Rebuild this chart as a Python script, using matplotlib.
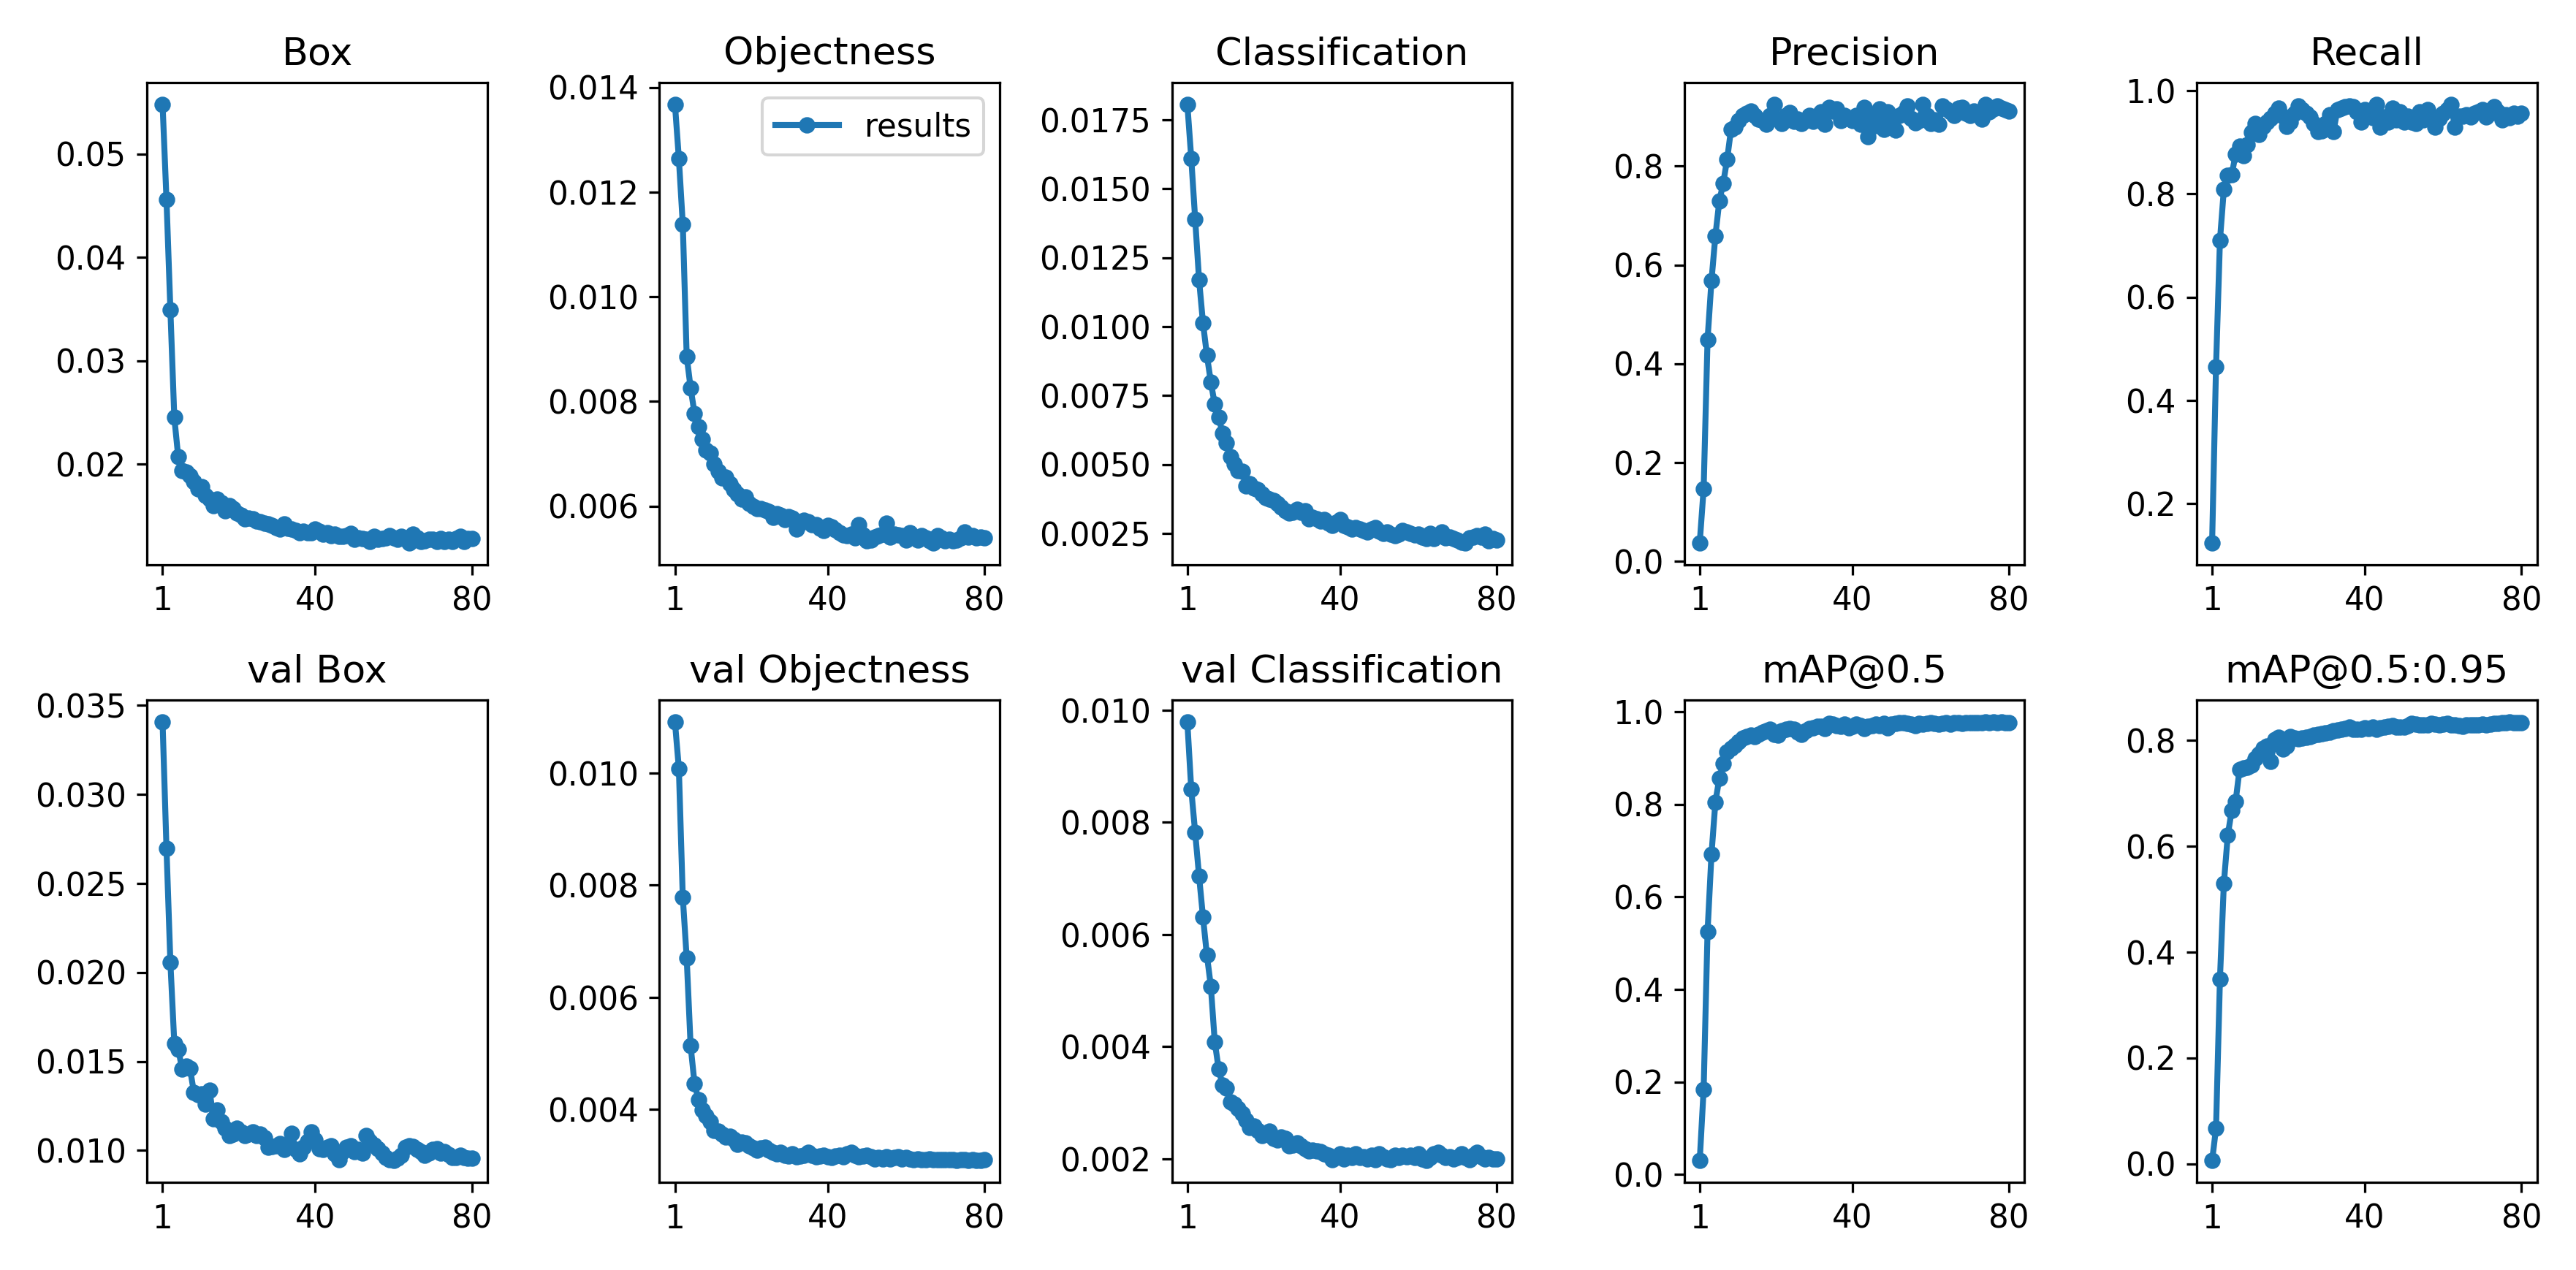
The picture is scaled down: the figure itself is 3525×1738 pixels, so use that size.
import matplotlib
matplotlib.use("Agg")
import matplotlib.pyplot as plt
from matplotlib.ticker import MultipleLocator
import numpy as np

# training curves, one value per epoch (1..80)
epochs = np.arange(1, 81)

box = [0.0548, 0.0456, 0.0349, 0.0245, 0.0207, 0.0194, 0.0192, 0.0189, 0.0183, 0.0176,
       0.0178, 0.0170, 0.0166, 0.0160, 0.0166, 0.0163, 0.0155, 0.0160, 0.0157, 0.0153,
       0.0151, 0.0147, 0.0148, 0.0147, 0.0145, 0.0144, 0.0143, 0.0142, 0.0141, 0.0139,
       0.0137, 0.0142, 0.0138, 0.0137, 0.0136, 0.0134, 0.0135, 0.0134, 0.0134, 0.0137,
       0.0135, 0.0132, 0.0134, 0.0131, 0.0132, 0.0130, 0.0130, 0.0131, 0.0133, 0.0127,
       0.0129, 0.0128, 0.0127, 0.0125, 0.0130, 0.0127, 0.0128, 0.0129, 0.0131, 0.0129,
       0.0127, 0.0130, 0.0127, 0.0124, 0.0132, 0.0129, 0.0125, 0.0126, 0.0127, 0.0127,
       0.0125, 0.0128, 0.0125, 0.0127, 0.0125, 0.0128, 0.0130, 0.0125, 0.0128, 0.0128]

objectness = [0.01368, 0.01264, 0.01139, 0.00886, 0.00826, 0.00777, 0.00751, 0.00728, 0.00707, 0.00701,
              0.00681, 0.00666, 0.00654, 0.00656, 0.00643, 0.00632, 0.00623, 0.00613, 0.00618, 0.00605,
              0.00600, 0.00595, 0.00595, 0.00592, 0.00590, 0.00579, 0.00585, 0.00583, 0.00575, 0.00580,
              0.00577, 0.00556, 0.00568, 0.00573, 0.00570, 0.00564, 0.00565, 0.00558, 0.00553, 0.00563,
              0.00560, 0.00555, 0.00549, 0.00545, 0.00543, 0.00547, 0.00540, 0.00564, 0.00545, 0.00534,
              0.00535, 0.00541, 0.00543, 0.00547, 0.00568, 0.00541, 0.00547, 0.00545, 0.00543, 0.00535,
              0.00549, 0.00541, 0.00535, 0.00543, 0.00540, 0.00534, 0.00530, 0.00543, 0.00540, 0.00534,
              0.00537, 0.00534, 0.00535, 0.00540, 0.00550, 0.00541, 0.00543, 0.00540, 0.00541, 0.00540]

classification = [0.01807, 0.01611, 0.01390, 0.01169, 0.01013, 0.00896, 0.00799, 0.00718, 0.00671, 0.00614,
                  0.00579, 0.00529, 0.00501, 0.00479, 0.00475, 0.00422, 0.00429, 0.00415, 0.00408, 0.00394,
                  0.00379, 0.00375, 0.00369, 0.00358, 0.00344, 0.00333, 0.00323, 0.00327, 0.00337, 0.00327,
                  0.00333, 0.00304, 0.00309, 0.00302, 0.00294, 0.00299, 0.00287, 0.00280, 0.00290, 0.00299,
                  0.00280, 0.00273, 0.00266, 0.00270, 0.00266, 0.00261, 0.00256, 0.00266, 0.00270, 0.00259,
                  0.00251, 0.00256, 0.00247, 0.00241, 0.00247, 0.00261, 0.00256, 0.00251, 0.00244, 0.00247,
                  0.00237, 0.00230, 0.00251, 0.00230, 0.00241, 0.00256, 0.00233, 0.00237, 0.00230, 0.00227,
                  0.00219, 0.00216, 0.00233, 0.00237, 0.00241, 0.00237, 0.00247, 0.00223, 0.00230, 0.00227]

precision = [0.038, 0.147, 0.449, 0.568, 0.659, 0.729, 0.765, 0.814, 0.874, 0.879,
             0.892, 0.902, 0.906, 0.911, 0.903, 0.895, 0.892, 0.884, 0.903, 0.924,
             0.895, 0.886, 0.903, 0.908, 0.890, 0.895, 0.886, 0.892, 0.902, 0.890,
             0.902, 0.910, 0.884, 0.919, 0.911, 0.916, 0.892, 0.903, 0.897, 0.892,
             0.902, 0.884, 0.919, 0.860, 0.902, 0.882, 0.916, 0.874, 0.910, 0.892,
             0.872, 0.902, 0.908, 0.921, 0.897, 0.887, 0.892, 0.924, 0.903, 0.886,
             0.894, 0.884, 0.921, 0.916, 0.910, 0.902, 0.917, 0.919, 0.906, 0.902,
             0.911, 0.906, 0.895, 0.925, 0.910, 0.916, 0.921, 0.917, 0.914, 0.911]

recall = [0.124, 0.465, 0.710, 0.809, 0.836, 0.837, 0.877, 0.893, 0.874, 0.896,
          0.919, 0.936, 0.915, 0.931, 0.940, 0.946, 0.957, 0.966, 0.951, 0.931,
          0.940, 0.957, 0.971, 0.964, 0.957, 0.949, 0.936, 0.921, 0.923, 0.936,
          0.953, 0.921, 0.964, 0.966, 0.969, 0.971, 0.969, 0.959, 0.940, 0.964,
          0.956, 0.948, 0.974, 0.929, 0.949, 0.940, 0.966, 0.944, 0.959, 0.940,
          0.951, 0.940, 0.936, 0.959, 0.944, 0.964, 0.951, 0.929, 0.946, 0.957,
          0.964, 0.974, 0.929, 0.951, 0.951, 0.953, 0.949, 0.957, 0.959, 0.964,
          0.949, 0.956, 0.969, 0.959, 0.944, 0.953, 0.948, 0.956, 0.951, 0.957]

val_box = [0.03407, 0.02698, 0.02056, 0.01602, 0.01569, 0.01458, 0.01474, 0.01462, 0.01326, 0.01315,
           0.01319, 0.01259, 0.01337, 0.01177, 0.01226, 0.01160, 0.01126, 0.01082, 0.01093, 0.01126,
           0.01104, 0.01082, 0.01093, 0.01104, 0.01082, 0.01093, 0.01071, 0.01016, 0.01022, 0.01027,
           0.01038, 0.01004, 0.01027, 0.01097, 0.01004, 0.00982, 0.01016, 0.01049, 0.01104, 0.01060,
           0.01009, 0.01004, 0.01016, 0.01027, 0.00982, 0.00949, 0.00993, 0.01016, 0.01027, 0.00993,
           0.01004, 0.00987, 0.01082, 0.01049, 0.01031, 0.01009, 0.00987, 0.00960, 0.00949, 0.00943,
           0.00956, 0.00971, 0.01016, 0.01027, 0.01022, 0.01004, 0.00993, 0.00971, 0.00987, 0.01004,
           0.01009, 0.00987, 0.00993, 0.00976, 0.00960, 0.00960, 0.00971, 0.00960, 0.00956, 0.00956]

val_objectness = [0.01091, 0.01008, 0.00779, 0.00670, 0.00514, 0.00446, 0.00418, 0.00399, 0.00389, 0.00379,
                  0.00363, 0.00361, 0.00356, 0.00351, 0.00352, 0.00347, 0.00338, 0.00342, 0.00340, 0.00335,
                  0.00331, 0.00328, 0.00331, 0.00333, 0.00328, 0.00324, 0.00321, 0.00324, 0.00319, 0.00317,
                  0.00321, 0.00316, 0.00317, 0.00319, 0.00323, 0.00319, 0.00316, 0.00317, 0.00319, 0.00316,
                  0.00314, 0.00317, 0.00319, 0.00316, 0.00321, 0.00323, 0.00319, 0.00316, 0.00317, 0.00319,
                  0.00316, 0.00312, 0.00314, 0.00312, 0.00316, 0.00312, 0.00314, 0.00316, 0.00312, 0.00314,
                  0.00312, 0.00310, 0.00312, 0.00311, 0.00310, 0.00312, 0.00311, 0.00310, 0.00311, 0.00310,
                  0.00311, 0.00310, 0.00309, 0.00310, 0.00311, 0.00309, 0.00310, 0.00309, 0.00309, 0.00310]

val_classification = [0.00979, 0.00859, 0.00782, 0.00704, 0.00631, 0.00563, 0.00508, 0.00409, 0.00360, 0.00332,
                      0.00326, 0.00302, 0.00298, 0.00290, 0.00281, 0.00269, 0.00256, 0.00258, 0.00251, 0.00241,
                      0.00244, 0.00249, 0.00237, 0.00234, 0.00239, 0.00237, 0.00223, 0.00225, 0.00228, 0.00223,
                      0.00218, 0.00214, 0.00216, 0.00214, 0.00213, 0.00209, 0.00207, 0.00199, 0.00202, 0.00209,
                      0.00200, 0.00206, 0.00202, 0.00209, 0.00202, 0.00204, 0.00200, 0.00206, 0.00199, 0.00209,
                      0.00204, 0.00200, 0.00199, 0.00206, 0.00202, 0.00207, 0.00204, 0.00206, 0.00202, 0.00209,
                      0.00200, 0.00197, 0.00202, 0.00209, 0.00211, 0.00206, 0.00202, 0.00204, 0.00200, 0.00202,
                      0.00209, 0.00202, 0.00199, 0.00206, 0.00211, 0.00204, 0.00200, 0.00202, 0.00200, 0.00200]

map50 = [0.030, 0.184, 0.525, 0.692, 0.805, 0.856, 0.888, 0.913, 0.922, 0.928,
         0.935, 0.943, 0.946, 0.949, 0.947, 0.952, 0.956, 0.960, 0.963, 0.952,
         0.949, 0.960, 0.963, 0.964, 0.963, 0.956, 0.952, 0.960, 0.964, 0.966,
         0.969, 0.968, 0.964, 0.975, 0.973, 0.971, 0.969, 0.973, 0.966, 0.969,
         0.973, 0.971, 0.964, 0.969, 0.971, 0.973, 0.971, 0.975, 0.966, 0.973,
         0.975, 0.977, 0.976, 0.975, 0.973, 0.971, 0.975, 0.973, 0.975, 0.976,
         0.975, 0.973, 0.975, 0.976, 0.973, 0.977, 0.976, 0.975, 0.977, 0.976,
         0.977, 0.976, 0.977, 0.978, 0.977, 0.978, 0.977, 0.978, 0.977, 0.976]

map50_95 = [0.006, 0.067, 0.349, 0.530, 0.621, 0.668, 0.685, 0.745, 0.748, 0.750,
            0.754, 0.766, 0.775, 0.786, 0.790, 0.760, 0.802, 0.806, 0.784, 0.790,
            0.808, 0.805, 0.803, 0.805, 0.806, 0.808, 0.810, 0.812, 0.813, 0.815,
            0.816, 0.818, 0.820, 0.822, 0.823, 0.825, 0.822, 0.821, 0.822, 0.824,
            0.823, 0.825, 0.822, 0.824, 0.826, 0.827, 0.828, 0.826, 0.825, 0.826,
            0.828, 0.832, 0.831, 0.830, 0.829, 0.830, 0.832, 0.831, 0.830, 0.831,
            0.832, 0.830, 0.829, 0.828, 0.827, 0.829, 0.830, 0.829, 0.830, 0.831,
            0.830, 0.831, 0.832, 0.833, 0.834, 0.834, 0.835, 0.834, 0.834, 0.834]

titles = ['Box', 'Objectness', 'Classification', 'Precision', 'Recall',
          'val Box', 'val Objectness', 'val Classification', 'mAP@0.5', 'mAP@0.5:0.95']
series = [box, objectness, classification, precision, recall,
          val_box, val_objectness, val_classification, map50, map50_95]

plt.rcParams['font.size'] = 10.7

fig, ax = plt.subplots(2, 5, figsize=(12, 5.917))
ax = ax.ravel()
for i, (title, y) in enumerate(zip(titles, series)):
    ax[i].plot(epochs, y, marker='.', label='results', linewidth=2, markersize=9)
    ax[i].set_title(title)
    ax[i].set_xticks([1, 40, 80])

# classification loss ticks every 0.0025 as in the original
ax[2].yaxis.set_major_locator(MultipleLocator(0.0025))

ax[1].legend()
fig.tight_layout()
fig.savefig('out.png', dpi=293.75)
